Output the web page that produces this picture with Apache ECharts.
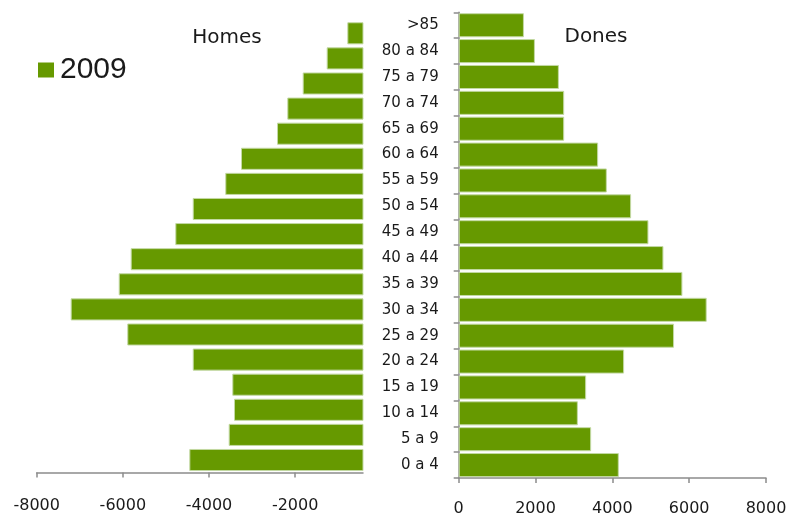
<!DOCTYPE html>
<html>
<head>
<meta charset="utf-8">
<script src="https://cdn.jsdelivr.net/npm/echarts@6/dist/echarts.min.js"></script>
<style>
html,body{margin:0;padding:0;background:#fff;}
#c{width:792px;height:517px;}
</style>
</head>
<body>
<div id="c"></div>
<script>
// Age groups, bottom to top
var categories = ['0 a 4','5 a 9','10 a 14','15 a 19','20 a 24','25 a 29','30 a 34','35 a 39','40 a 44','45 a 49','50 a 54','55 a 59','60 a 64','65 a 69','70 a 74','75 a 79','80 a 84','>85'];
var homes = [-4457,-3543,-3420,-3459,-4378,-5897,-7211,-6096,-5818,-4782,-4378,-3622,-3257,-2421,-2182,-1825,-1268,-789];
var dones = [4168,3448,3102,3318,4306,5606,6456,5824,5330,4940,4488,3856,3630,2746,2746,2608,1984,1698];
var homesTicks = [-8000,-6000,-4000,-2000];
var donesTicks = [0,2000,4000,6000,8000];
var seriesName = '2009';

var GREEN = '#669900';
var AXIS = '#8c8c8c';
var TXT = '#1a1a1a';
var FONT = 'DejaVu Sans';
var plain = function(v){ return String(v); };

var chart = echarts.init(document.getElementById('c'), null, {renderer:'canvas'});
chart.setOption({
  animation:false,
  backgroundColor:'#fff',
  legend:{
    data:[seriesName],
    left:33, top:50,
    icon:'rect', itemWidth:16, itemHeight:15,
    itemStyle:{borderWidth:0},
    textStyle:{fontFamily:'Liberation Sans', fontSize:30, color:TXT, padding:[0,0,0,1]}
  },
  graphic:[
    {type:'text', position:[227,38], style:{text:'Homes', fontFamily:FONT, fontSize:20, fill:TXT, textAlign:'center', textVerticalAlign:'middle'}},
    {type:'text', position:[596,37], style:{text:'Dones', fontFamily:FONT, fontSize:20, fill:TXT, textAlign:'center', textVerticalAlign:'middle'}}
  ],
  grid:[
    {left:36.7, width:326.3, top:20.75, height:451.8},
    {left:458.7, width:307.3, top:12.3, height:466}
  ],
  xAxis:[
    {gridIndex:0, type:'value', min:-8000, max:-425,
     splitLine:{show:false},
     axisLine:{show:true, lineStyle:{color:AXIS, width:1.5}},
     axisTick:{show:true, length:5, lineStyle:{color:AXIS, width:1.5}, customValues:homesTicks},
     axisLabel:{customValues:homesTicks, formatter:plain, fontFamily:FONT, fontSize:16, color:TXT, margin:25}
    },
    {gridIndex:1, type:'value', min:0, max:8000, interval:2000,
     splitLine:{show:false},
     axisLine:{show:true, lineStyle:{color:AXIS, width:1.5}},
     axisTick:{show:true, length:5, lineStyle:{color:AXIS, width:1.5}, customValues:donesTicks},
     axisLabel:{customValues:donesTicks, formatter:plain, fontFamily:FONT, fontSize:16, color:TXT, margin:23}
    }
  ],
  yAxis:[
    {gridIndex:0, type:'category', data:categories, show:false},
    {gridIndex:1, type:'category', data:categories,
     axisLine:{show:true, lineStyle:{color:AXIS, width:1.5}},
     axisTick:{show:true, length:5, lineStyle:{color:AXIS, width:1.5}},
     axisLabel:{fontFamily:FONT, fontSize:15, color:TXT, margin:20, interval:0}
    }
  ],
  series:[
    {name:seriesName, type:'bar', xAxisIndex:0, yAxisIndex:0, data:homes,
     barCategoryGap:'12%', clip:true,
     itemStyle:{color:GREEN, borderColor:'#c3d9a3', borderWidth:1}},
    {name:seriesName, type:'bar', xAxisIndex:1, yAxisIndex:1, data:dones,
     barCategoryGap:'7%', clip:true,
     itemStyle:{color:GREEN, borderColor:'#c3d9a3', borderWidth:1}}
  ]
});
</script>
</body>
</html>
